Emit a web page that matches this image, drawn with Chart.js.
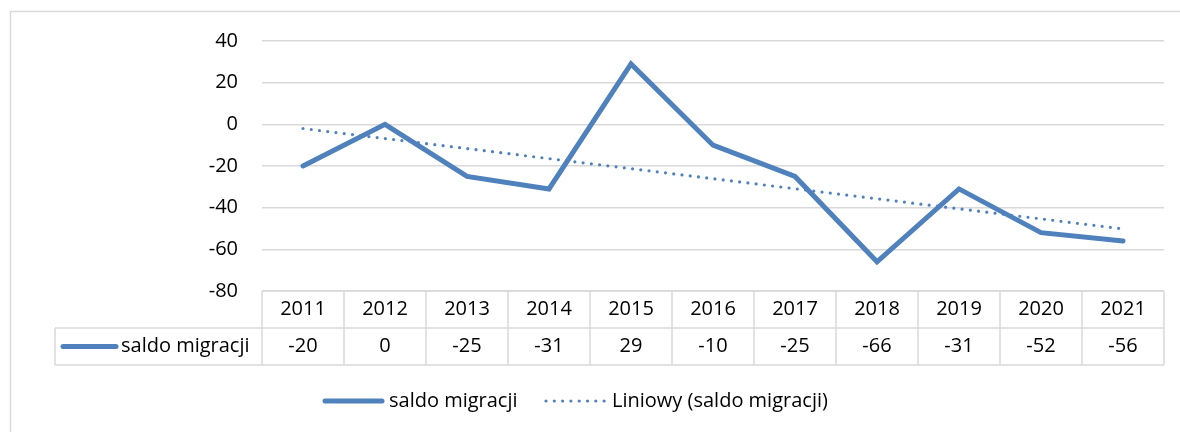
<!DOCTYPE html>
<html>
<head>
<meta charset="utf-8">
<script src="https://cdn.jsdelivr.net/npm/chart.js@4.4.1/dist/chart.umd.min.js"></script>
<style>
  html, body { margin: 0; padding: 0; background: #fff; }
  #wrap { position: relative; width: 1180px; height: 432px; }
</style>
</head>
<body>
<div id="wrap"><canvas id="c" width="1180" height="432"></canvas></div>
<script>
const categories = ['2011','2012','2013','2014','2015','2016','2017','2018','2019','2020','2021'];
const saldoMigracji = [-20, 0, -25, -31, 29, -10, -25, -66, -31, -52, -56];
const seriesLabel = 'saldo migracji';
const trendLabel = 'Liniowy (saldo migracji)';
const yTicks = [40, 20, 0, -20, -40, -60, -80];

// Linear least-squares trendline (as Excel's "Liniowy" trendline)
function linearTrend(vals) {
  const n = vals.length;
  let sx = 0, sy = 0, sxx = 0, sxy = 0;
  vals.forEach((v, i) => { sx += i; sy += v; sxx += i * i; sxy += i * v; });
  const b = (n * sxy - sx * sy) / (n * sxx - sx * sx);
  const a = (sy - b * sx) / n;
  return vals.map((_, i) => a + b * i);
}
const trend = linearTrend(saldoMigracji);

const BLUE = '#4f81bd';
const GRID = '#d9d9d9';
const FONT = '"Open Sans", Lato, sans-serif';
const FSIZE = 20;

const tablePlugin = {
  id: 'tablePlugin',
  afterDraw(chart) {
    const ctx = chart.ctx;
    const x = chart.scales.x;
    const area = chart.chartArea;
    const top = area.bottom;
    const rowH = 37;
    const mid = top + rowH;
    const bottom = mid + rowH;
    const n = categories.length;
    const colW = (area.right - area.left) / n;
    const tableLeft = 55;
    ctx.save();
    // outer chart border
    ctx.strokeStyle = GRID;
    ctx.lineWidth = 1.5;
    ctx.strokeRect(10.5, 11.5, 1250, 500);
    // table lines
    ctx.lineWidth = 1.5;
    ctx.strokeStyle = GRID;
    ctx.beginPath();
    ctx.moveTo(area.left, top); ctx.lineTo(area.right, top);
    ctx.moveTo(tableLeft, mid); ctx.lineTo(area.right, mid);
    ctx.moveTo(tableLeft, bottom); ctx.lineTo(area.right, bottom);
    ctx.moveTo(tableLeft, mid); ctx.lineTo(tableLeft, bottom);
    for (let i = 0; i <= n; i++) {
      const xx = area.left + i * colW;
      ctx.moveTo(xx, top); ctx.lineTo(xx, bottom);
    }
    ctx.stroke();
    // texts
    ctx.fillStyle = '#000';
    ctx.font = FSIZE + 'px ' + FONT;
    ctx.textAlign = 'center';
    ctx.textBaseline = 'middle';
    categories.forEach((c, i) => {
      const cx = x.getPixelForValue(i);
      ctx.fillText(c, cx, top + rowH / 2);
      ctx.fillText(String(saldoMigracji[i]), cx, mid + rowH / 2);
    });
    // legend key in table
    ctx.strokeStyle = BLUE;
    ctx.lineWidth = 5;
    ctx.lineCap = 'round';
    ctx.beginPath();
    ctx.moveTo(63, mid + rowH / 2); ctx.lineTo(116, mid + rowH / 2);
    ctx.stroke();
    ctx.textAlign = 'left';
    ctx.fillText(chart.data.datasets[0].label, 121, mid + rowH / 2);

    // bottom legend
    const ly = 401;
    ctx.beginPath();
    ctx.moveTo(325, ly); ctx.lineTo(382, ly);
    ctx.stroke();
    ctx.fillText(chart.data.datasets[0].label, 389, ly);
    ctx.lineWidth = 3.2;
    ctx.setLineDash([0, 8.3]);
    ctx.beginPath();
    ctx.moveTo(546, ly); ctx.lineTo(605, ly);
    ctx.stroke();
    ctx.setLineDash([]);
    ctx.fillText(chart.data.datasets[1].label, 612, ly);
    ctx.restore();
  }
};

new Chart(document.getElementById('c'), {
  type: 'line',
  data: {
    labels: categories,
    datasets: [
      {
        label: seriesLabel,
        data: saldoMigracji,
        borderColor: BLUE,
        borderWidth: 5,
        pointRadius: 0,
        tension: 0,
        borderCapStyle: 'round',
        borderJoinStyle: 'miter',
        order: 1
      },
      {
        label: trendLabel,
        data: trend,
        borderColor: BLUE,
        borderWidth: 3.2,
        borderDash: [0, 8.3],
        borderCapStyle: 'round',
        pointRadius: 0,
        tension: 0,
        order: 0
      }
    ]
  },
  options: {
    responsive: false,
    animation: false,
    devicePixelRatio: 1,
    layout: { padding: { left: 0, right: 16, top: 41, bottom: 141 } },
    plugins: { legend: { display: false }, tooltip: { enabled: false } },
    scales: {
      x: {
        type: 'category',
        offset: true,
        display: false
      },
      y: {
        min: -80,
        max: 40,
        afterFit(scale) { scale.width = 262; },
        afterBuildTicks(scale) { scale.ticks = yTicks.map(v => ({ value: v })); },
        border: { display: false },
        grid: { color: GRID, lineWidth: 1.5, drawTicks: false },
        ticks: {
          padding: 24,
          color: '#000',
          font: { family: FONT, size: FSIZE }
        }
      }
    }
  },
  plugins: [tablePlugin]
});
</script>
</body>
</html>
